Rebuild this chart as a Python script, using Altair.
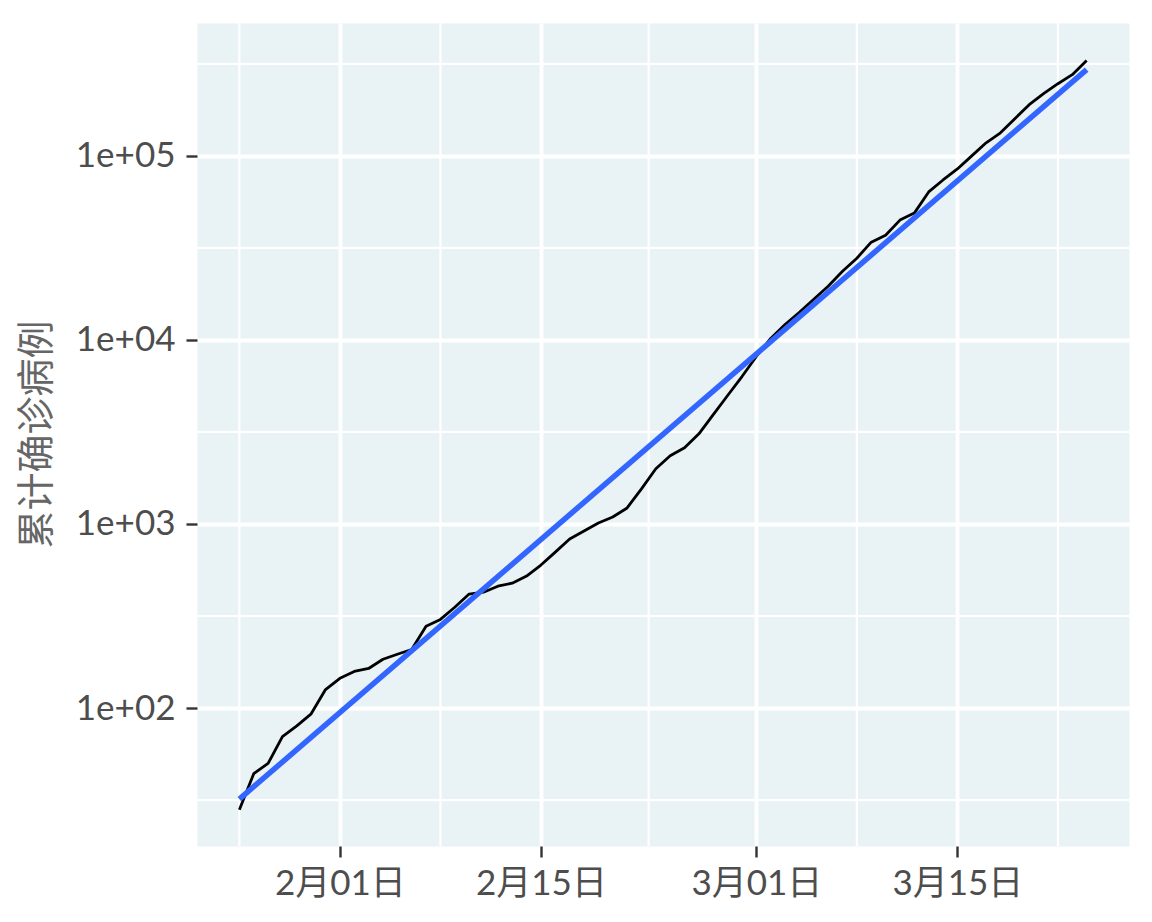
import altair as alt
import pandas as pd

# ---- data ----
start_date = "2020-01-25"
cases = [28, 44, 50, 70, 80, 93, 126, 145, 158, 164,
         184, 196, 208, 278, 303, 353, 416, 426, 459, 477,
         521, 598, 703, 828, 916, 1012, 1091, 1222, 1552, 1995,
         2349, 2594, 3090, 3926, 4989, 6324, 8128, 10186, 12134, 14125,
         16634, 19588, 23605, 27797, 33963, 37068, 44771, 48865, 63680, 73961,
         84918, 100000, 117760, 133352, 159221, 189671, 217771, 246604, 276058, 329610]
x_ticks = [(2, 1), (2, 15), (3, 1), (3, 15)]
minor_x = ["2020-01-25T00:00:00Z", "2020-02-08T00:00:00Z", "2020-02-22T12:00:00Z",
           "2020-03-08T00:00:00Z", "2020-03-22T00:00:00Z"]
major_y = [100, 1000, 10000, 100000]
minor_y = [31.6227766, 316.227766, 3162.27766, 31622.7766, 316227.766]
y_title = "累计确诊病例"

df = pd.DataFrame({
    "day": list(range(len(cases))),
    "date": pd.date_range(start_date, periods=len(cases)).strftime("%Y-%m-%d"),
    "cases": cases,
})

FONT = "Lato, 'Noto Sans CJK SC', sans-serif"

xscale = alt.Scale(type="utc", domain=[
    alt.DateTime(year=2020, month=1, date=22, hours=1, minutes=12, utc=True),
    alt.DateTime(year=2020, month=3, date=26, hours=22, minutes=48, utc=True)])
yscale = alt.Scale(type="log", domain=[17.8, 527000], nice=False)

xaxis = alt.Axis(
    values=[alt.DateTime(year=2020, month=m, date=d, utc=True) for m, d in x_ticks],
    labelExpr="utcFormat(datum.value, '%-m月%d日')",
    grid=True, gridColor="white", gridWidth=3.8, gridOpacity=1,
    domain=False, tickSize=11, tickWidth=2.4, tickColor="#333333",
    labelFont=FONT, labelFontSize=35, labelColor="#4D4D4D", labelPadding=9,
    title=None)

yaxis = alt.Axis(
    values=major_y,
    labelExpr="'1e+0' + round(log(datum.value) / LN10)",
    grid=True, gridColor="white", gridWidth=3.8, gridOpacity=1,
    domain=False, tickSize=11, tickWidth=2.4, tickColor="#333333",
    labelFont=FONT, labelFontSize=35, labelColor="#4D4D4D", labelPadding=11,
    title=y_title, titleFont=FONT, titleFontSize=38, titleFontWeight="normal",
    titleColor="#666666", titleAngle=270, titleX=-160, titleY=411,
    titleAlign="center", titleBaseline="middle")

X = alt.X("date:T", scale=xscale, axis=xaxis)
Y = alt.Y("cases:Q", scale=yscale, axis=yaxis)

minor_x_layer = alt.Chart(pd.DataFrame({"date": minor_x})).mark_rule(
    color="white", strokeWidth=2.2).encode(x=X)

minor_y_layer = alt.Chart(pd.DataFrame({"cases": minor_y})).mark_rule(
    color="white", strokeWidth=2.2).encode(y=Y)

line = alt.Chart(df).mark_line(color="black", strokeWidth=2.8,
                               strokeJoin="round").encode(x=X, y=Y)

fit = alt.Chart(df).transform_calculate(
    ly="log(datum.cases) / LN10"
).transform_regression(
    "day", "ly", method="linear", extent=[0, len(cases) - 1]
).transform_calculate(
    date="utc(2020, 0, 25) + datum.day * 86400000",
    cases="pow(10, datum.ly)"
).mark_line(color="#3366FF", strokeWidth=5.5).encode(x=X, y=Y)

chart = alt.layer(minor_x_layer, minor_y_layer, line, fit).properties(
    width=932, height=823,
    padding={"left": 189, "top": 15, "right": 15, "bottom": 68},
    autosize=alt.AutoSizeParams(type="none"),
    background="white",
).configure_view(fill="#E9F2F5", stroke="transparent")

chart.save("out.html", embed_options={"renderer": "svg", "actions": False})
